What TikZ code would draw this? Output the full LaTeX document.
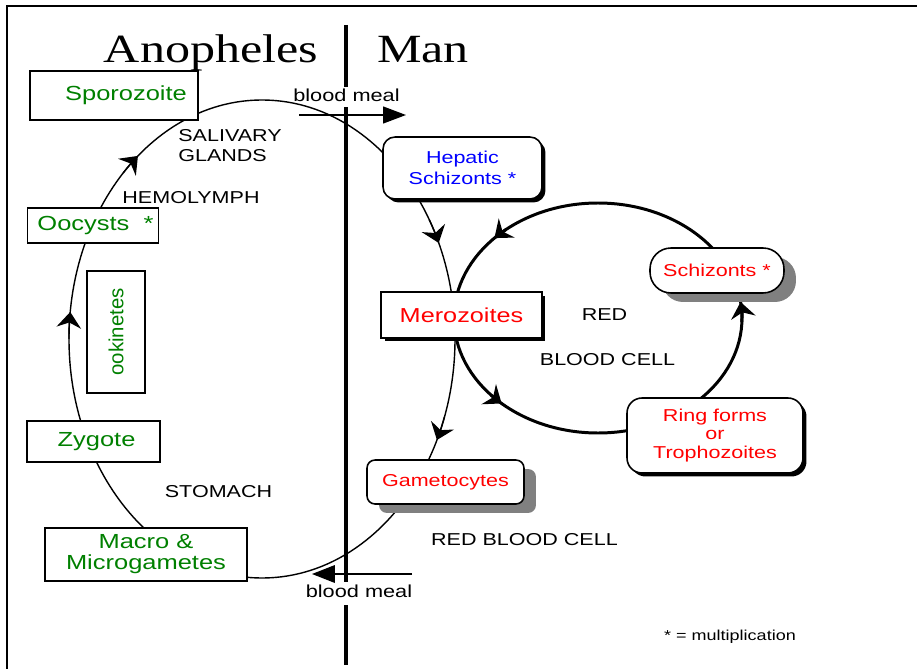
\documentclass[tikz,border=0pt]{standalone}
\usepackage{fontspec}
\usetikzlibrary{arrows.meta,shadows}
\setmainfont{Liberation Sans}[FakeStretch=1.25]
\newfontfamily\titlefont{Liberation Serif}[FakeStretch=1.25]
\newfontfamily\plainsans{Liberation Sans}
\definecolor{stagegreen}{RGB}{0,128,0}
\definecolor{shadowgray}{RGB}{128,128,128}

\begin{document}
\begin{tikzpicture}[x=0.02cm, y=0.02cm]
    \tikzset{
        stage/.style={draw, line width=0.8pt, fill=white, text=stagegreen, inner sep=0pt,
            align=center, font=\fontsize{11.6}{11.9}\selectfont},
        hoststage/.style={draw, line width=0.9pt, fill=white, inner sep=0pt, align=center,
            font=\fontsize{9.8}{11.7}\selectfont},
        darkshadow/.style={general shadow={fill=black, shadow xshift=0.07cm, shadow yshift=-0.07cm}},
        grayshadow/.style={general shadow={fill=shadowgray, shadow xshift=0.24cm, shadow yshift=-0.18cm}},
        site/.style={inner sep=0pt, align=left, font=\fontsize{9.8}{11.7}\selectfont},
        meal/.style={fill=white, inner sep=0.04cm, font=\fontsize{9.9}{12}\selectfont},
        mosquitoring/.style={line width=0.8pt},
        cellring/.style={line width=1.7pt},
        cyclearrow/.style={-{Stealth[length=9pt, width=14pt, inset=3pt]}}
    }
    \useasboundingbox (0,0) rectangle (917,-669);
    \draw[line width=1.1pt] (917,-6) -- (7,-6) -- (7,-669);

    \coordinate (divtop) at (346,-25);
    \coordinate (divbot) at (346,-665);
    \draw[line width=2.3pt] (divtop) -- (divbot);

    \node[anchor=base, inner sep=0pt, font=\titlefont\fontsize{22.8}{27}\selectfont] (anoph) at (211,-63) {Anopheles};
    \node[anchor=base, inner sep=0pt, font=\titlefont\fontsize{22.8}{27}\selectfont] (man) at (423,-63) {Man};

    \node[meal, anchor=base, text depth=0.06cm] (mealin) at (346.5,-102) {blood meal};
    \node[meal, anchor=base, text depth=0.12cm] (mealout) at (359,-597) {blood meal};

    \coordinate (lc) at (262,-339);
    \coordinate (rc) at (598,-318);
    \draw[mosquitoring] (lc) ellipse [x radius=193, y radius=239];
    \draw[cellring] (rc) ellipse [x radius=144, y radius=115];
    \draw[mosquitoring, cyclearrow] (lc) ++(136:193 and 239) arc[start angle=136, end angle=130, x radius=193, y radius=239];
    \draw[mosquitoring, cyclearrow] (lc) ++(180:193 and 239) arc[start angle=180, end angle=173.5, x radius=193, y radius=239];
    \draw[mosquitoring, cyclearrow] (lc) ++(30:193 and 239) arc[start angle=30, end angle=23.7, x radius=193, y radius=239];
    \draw[mosquitoring, cyclearrow] (lc) ++(-19:193 and 239) arc[start angle=-19, end angle=-25, x radius=193, y radius=239];
    \draw[cellring, cyclearrow] (rc) ++(130:144 and 115) arc[start angle=130, end angle=136, x radius=144, y radius=115];
    \draw[cellring, cyclearrow] (rc) ++(222:144 and 115) arc[start angle=222, end angle=228, x radius=144, y radius=115];
    \draw[cellring, cyclearrow] (rc) ++(-2:144 and 115) arc[start angle=-2, end angle=8, x radius=144, y radius=115];

    \coordinate (mealinfrom) at (299,-115);
    \coordinate (mealinto) at (406,-115);
    \coordinate (mealoutfrom) at (412,-574);
    \coordinate (mealoutto) at (312,-574);
    \draw[line width=0.8pt, -{Triangle[length=13pt, width=9.6pt]}] (mealinfrom) -- (mealinto);
    \draw[line width=0.8pt, -{Triangle[length=13pt, width=10pt]}] (mealoutfrom) -- (mealoutto);

    \node[stage, minimum width=3.36cm, minimum height=0.98cm] (spor) at (114,-95.5) {\hspace*{0.48cm}Sporozoite};
    \node[stage, minimum width=2.62cm, minimum height=0.7cm] (ooc) at (93,-225.5) {\hspace*{0.1cm}Oocysts\ \ *};
    \node[stage, rotate=90, minimum width=2.44cm, minimum height=1.16cm,
        font=\plainsans\fontsize{11.6}{12}\selectfont] (ooki) at (116,-332) {ookinetes};
    \node[stage, minimum width=2.66cm, minimum height=0.82cm] (zyg) at (93.5,-441.5) {\hspace*{0.12cm}Zygote};
    \node[stage, minimum width=4.04cm, minimum height=1.06cm] (gam) at (146,-554.5) {Macro \&\\Microgametes};

    \node[hoststage, darkshadow, rounded corners=0.24cm, text=blue,
        minimum width=3.18cm, minimum height=1.24cm] (hep) at (462.5,-168) {Hepatic\\Schizonts *};
    \node[hoststage, darkshadow, text=red, font=\fontsize{11.5}{12}\selectfont,
        minimum width=3.22cm, minimum height=0.92cm] (mero) at (461.5,-315) {Merozoites};
    \node[hoststage, grayshadow, rounded corners=0.16cm, text=red,
        minimum width=3.14cm, minimum height=0.88cm] (gcyt) at (445.5,-482) {Gametocytes};
    \node[hoststage, grayshadow, rounded corners=0.42cm, text=red,
        minimum width=2.68cm, minimum height=0.9cm] (schiz) at (717,-270.5) {Schizonts *};
    \node[hoststage, darkshadow, rounded corners=0.3cm, text=red, font=\fontsize{9.8}{10.5}\selectfont,
        minimum width=3.52cm, minimum height=1.5cm] (ring) at (715,-435.5) {Ring forms\\or\\Trophozoites};

    \node[site, anchor=north west] (sal) at (178,-129) {SALIVARY\\GLANDS};
    \node[site, anchor=base] (hemo) at (191,-204) {HEMOLYMPH};
    \node[site, anchor=base] (stom) at (218.5,-497) {STOMACH};
    \node[site, anchor=base] (red) at (604.5,-320) {RED};
    \node[site, anchor=base] (bcell) at (607.5,-365) {BLOOD CELL};
    \node[site, anchor=base] (rbc) at (524.5,-545) {RED BLOOD CELL};
    \node[site, anchor=base, font=\fontsize{8.2}{10}\selectfont] (mult) at (730,-640) {* = multiplication};
\end{tikzpicture}
\end{document}
